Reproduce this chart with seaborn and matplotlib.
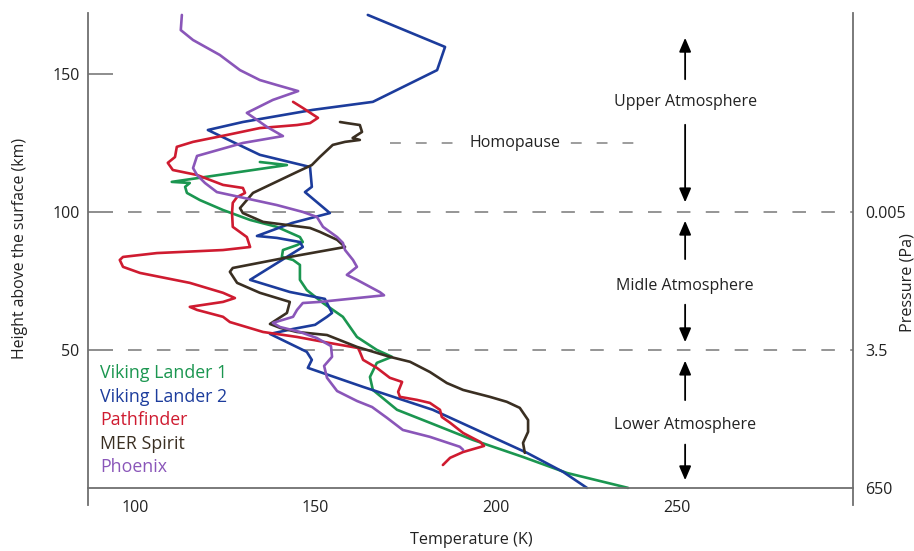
import matplotlib
matplotlib.use("Agg")
import matplotlib.pyplot as plt
import pandas as pd
import seaborn as sns

# Temperature (K) and height above the surface (km) for each lander profile
vl1_temp = [236.6, 219.7, 207.5, 193.6, 181.7, 172.6, 165.9, 165.1, 167.0, 171.2, 167.0, 161.5,
            157.6, 152.1, 147.6, 145.7, 145.7, 143.8, 140.7, 141.0, 144.9, 146.5, 145.7, 139.3,
            131.9, 124.4, 118.0, 114.4, 113.9, 115.2, 110.2, 142.1, 134.6]
vl1_height = [0.0, 5.4, 11.2, 17.4, 23.6, 28.3, 35.5, 40.2, 45.3, 47.5, 50.0, 54.7,
              62.0, 67.0, 71.7, 75.4, 80.8, 82.6, 83.7, 86.2, 88.0, 89.1, 90.9, 94.6,
              97.1, 100.7, 104.3, 106.9, 109.1, 110.5, 110.9, 117.0, 118.1]

vl2_temp = [225.2, 218.6, 208.6, 182.5, 163.2, 147.9, 149.0, 147.6, 137.4, 143.8, 149.9, 153.2,
            154.6, 152.6, 142.9, 131.9, 146.5, 145.7, 139.3, 133.8, 143.5, 154.0, 147.1, 149.0,
            148.5, 134.6, 120.2, 129.9, 149.3, 165.9, 183.7, 185.9, 164.5]
vl2_height = [0.0, 5.8, 12.7, 28.3, 36.6, 43.5, 46.4, 49.3, 55.8, 57.6, 59.1, 62.0,
              63.4, 68.5, 71.0, 75.4, 87.3, 89.1, 90.6, 91.3, 96.0, 99.6, 107.2, 109.1,
              116.3, 120.7, 129.7, 132.6, 137.0, 139.9, 151.4, 159.8, 171.4]

pf_temp = [185.3, 187.3, 190.9, 196.7, 195.6, 190.9, 187.3, 185.0, 184.5, 181.7, 178.1, 173.4,
           172.9, 174.0, 170.6, 167.0, 163.2, 162.3, 161.8, 154.0, 144.9, 135.5, 126.3, 124.4,
           117.2, 115.2, 124.4, 127.7, 124.4, 115.2, 101.4, 96.7, 95.8, 96.7, 106.1, 124.4,
           131.9, 131.0, 127.1, 126.9, 127.1, 128.3, 130.5, 129.9, 124.4, 117.2, 110.5, 109.1,
           111.1, 111.6, 116.1, 125.5, 134.6, 144.9, 148.5, 150.7, 146.5, 143.8]
pf_height = [8.3, 10.9, 13.0, 15.2, 16.7, 19.9, 23.6, 25.7, 28.3, 30.8, 31.9, 33.0,
             34.8, 38.4, 39.9, 43.5, 46.4, 49.3, 50.7, 52.5, 54.7, 56.5, 60.1, 62.0,
             64.5, 65.6, 67.4, 68.8, 70.7, 74.3, 77.9, 80.1, 82.6, 83.7, 85.1, 86.2,
             87.3, 90.9, 94.6, 99.6, 103.3, 105.4, 106.9, 108.7, 109.8, 113.4, 115.2, 117.8,
             119.9, 123.6, 125.4, 127.9, 130.4, 131.5, 132.2, 134.1, 137.7, 139.9]

mer_temp = [208.0, 207.5, 208.9, 208.9, 206.6, 203.0, 198.3, 190.9, 186.4, 181.7, 176.2, 170.6,
            161.5, 153.2, 144.9, 140.2, 137.4, 142.1, 142.9, 134.6, 128.3, 126.3, 127.1, 142.9,
            158.2, 156.0, 151.2, 148.5, 135.5, 129.9, 129.1, 132.7, 144.9, 149.0, 151.2, 154.8,
            158.2, 162.3, 160.3, 162.9, 162.3, 158.7, 156.8]
mer_height = [12.7, 16.3, 20.3, 24.6, 29.0, 31.2, 33.0, 35.5, 38.0, 42.0, 45.7, 47.5,
              51.1, 55.4, 56.5, 58.0, 59.4, 63.4, 67.4, 70.7, 74.3, 78.3, 79.7, 83.7,
              87.3, 89.9, 92.8, 94.2, 96.4, 99.6, 101.4, 106.9, 114.5, 117.0, 119.9, 124.3,
              125.4, 126.1, 126.8, 129.0, 131.5, 132.2, 132.6]

phx_temp = [190.9, 190.0, 181.7, 174.2, 169.8, 165.7, 161.5, 156.0, 153.2, 152.4, 154.6, 154.3,
            150.4, 145.7, 140.2, 138.2, 143.8, 144.9, 146.5, 151.2, 169.0, 167.9, 161.5, 158.7,
            161.5, 160.4, 158.2, 157.6, 156.0, 152.1, 150.4, 146.5, 139.3, 129.1, 122.7, 119.4,
            117.2, 116.1, 117.2, 129.9, 141.0, 136.6, 131.0, 138.2, 145.2, 139.3, 134.6, 129.1,
            123.5, 116.1, 112.7, 113.0]
phx_height = [13.8, 14.9, 18.5, 21.0, 25.4, 29.3, 31.5, 35.1, 39.9, 44.2, 47.5, 51.4,
              54.3, 56.5, 58.3, 59.8, 62.0, 64.5, 67.0, 67.4, 69.8, 70.9, 75.4, 77.2,
              80.1, 82.6, 86.2, 88.8, 90.9, 94.6, 98.2, 100.0, 102.5, 105.4, 107.2, 110.5,
              113.4, 115.9, 120.3, 125.0, 127.5, 130.8, 135.9, 140.6, 143.8, 146.0, 147.8, 151.4,
              156.9, 162.3, 165.9, 171.4]

missions = ["Viking Lander 1", "Viking Lander 2", "Pathfinder", "MER Spirit", "Phoenix"]
colors = ["#1b9650", "#1c3c9c", "#cf1b30", "#3a2f22", "#8a56b9"]

x_ticks = [100, 150, 200, 250]
y_ticks = [50, 100, 150]
boundary_heights = [50, 100]
pressure_heights = [0, 50, 100]
pressure_labels = ["650", "3.5", "0.005"]
homopause_height = 125

frames = []
for name, t, h in zip(missions,
                      [vl1_temp, vl2_temp, pf_temp, mer_temp, phx_temp],
                      [vl1_height, vl2_height, pf_height, mer_height, phx_height]):
    frames.append(pd.DataFrame({"Temperature": t, "Height": h, "Mission": name}))
profiles = pd.concat(frames, ignore_index=True)

sns.set_theme(style="white")
plt.rcParams["font.family"] = ["Open Sans", "DejaVu Sans"]

text_color = "#222222"
axis_color = "#6f6f6f"
dash_color = "#8c8c8c"

fig = plt.figure(figsize=(9.14, 5.51), dpi=100)
ax = fig.add_axes([88 / 914, 46 / 551, 765 / 914, 492 / 551])

sns.lineplot(data=profiles, x="Temperature", y="Height", hue="Mission",
             hue_order=missions, palette=colors, sort=False, estimator=None,
             linewidth=1.9, legend=False, ax=ax)

ax.set_xlim(87.0, 298.9)
ax.set_ylim(-6.2, 172.1)

# Region boundaries
for yb in boundary_heights:
    ax.axhline(yb, xmin=0.052, xmax=1.0, color=dash_color, lw=1.3,
               linestyle=(0, (7.5, 8.5)), zorder=1)

# Homopause marker
ax.plot([170.6, 239.9], [homopause_height, homopause_height], color=dash_color,
        lw=1.2, linestyle=(0, (6.5, 9.0)), zorder=1)
ax.text(205.3, homopause_height, "Homopause", ha="center", va="center",
        fontsize=11.5, color=text_color,
        bbox=dict(facecolor="white", edgecolor="none", pad=3), zorder=2)

# Layer labels with arrows
arrow_x = 252.4
arrow_kw = dict(arrowstyle="-|>,head_width=0.3,head_length=0.7", color="black", lw=1.3)
layers = [("Upper Atmosphere", 139.9, (147.1, 164.1), (132.6, 102.5)),
          ("Midle Atmosphere", 73.2, (81.9, 97.8), (67.4, 51.8)),
          ("Lower Atmosphere", 22.8, (30.8, 47.1), (16.7, 1.8))]
for label, ty, up, down in layers:
    ax.text(arrow_x, ty, label, ha="center", va="center", fontsize=11.5, color=text_color)
    ax.annotate("", xy=(arrow_x, up[1]), xytext=(arrow_x, up[0]), arrowprops=arrow_kw)
    ax.annotate("", xy=(arrow_x, down[1]), xytext=(arrow_x, down[0]), arrowprops=arrow_kw)

# Mission key in the line colours
for i, (name, col) in enumerate(zip(missions, colors)):
    ax.text(90.3, 41.5 - i * 8.5, name, color=col, fontsize=12.8,
            ha="left", va="center")

# Axes styling
for side in ["left", "right", "bottom"]:
    ax.spines[side].set_color(axis_color)
    ax.spines[side].set_linewidth(1.3)
ax.spines["top"].set_visible(False)
ax.spines["bottom"].set_position(("data", 0))

ax.set_xticks(x_ticks)
ax.set_yticks(y_ticks)
ax.tick_params(axis="x", direction="in", length=7.5, width=1.1, color=axis_color,
               pad=9, labelsize=11.5, labelcolor=text_color)
ax.tick_params(axis="y", direction="in", length=18, width=1.1, color=axis_color,
               pad=6, labelsize=11.5, labelcolor=text_color)
ax.set_xlabel("")
ax.set_ylabel("")

ax2 = ax.twinx()
ax2.set_ylim(ax.get_ylim())
ax2.set_yticks(pressure_heights)
ax2.set_yticklabels(pressure_labels)
ax2.tick_params(axis="y", length=0, pad=9, labelsize=11.5, labelcolor=text_color)
for side in ["left", "right", "top", "bottom"]:
    ax2.spines[side].set_visible(False)

fig.text(471 / 914, 1 - 540 / 551, "Temperature (K)", ha="center", va="center",
         fontsize=11.6, color=text_color)
fig.text(20 / 914, 1 - 248 / 551, "Height above the surface (km)", ha="center",
         va="center", rotation=90, fontsize=11.4, color=text_color)
fig.text(907 / 914, 1 - 283 / 551, "Pressure (Pa)", ha="center", va="center",
         rotation=90, fontsize=11.6, color=text_color)

fig.savefig("out.png", dpi=100, facecolor="white")
